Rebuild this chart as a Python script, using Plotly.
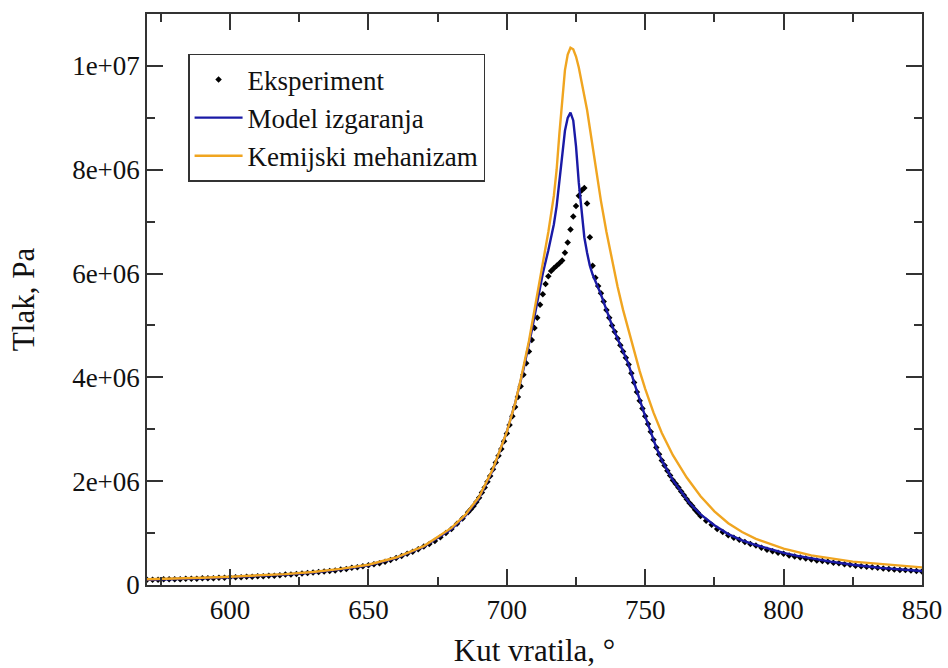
import plotly.graph_objects as go

# Experiment (crank angle in degrees, pressure in units of 1e6 Pa)
exp_x = [570, 572, 574, 576, 578, 580, 582, 584, 586, 588, 590, 592, 594, 596, 598,
         600, 602, 604, 606, 608, 610, 612, 614, 616, 618, 620, 622, 624, 626, 628,
         630, 632, 634, 636, 638, 640, 642, 644, 646, 648, 650, 652, 654, 656, 658,
         660, 662, 664, 666, 668, 670, 672, 674, 676, 678, 680, 682, 684, 686, 687,
         688, 689, 690, 691, 692, 693, 694, 695, 696, 697, 698, 699, 700, 701, 702,
         703, 704, 705, 706, 707, 708, 709, 710, 711, 712, 713, 714, 715, 716, 717,
         718, 719, 720, 721, 722, 723, 724, 725, 726, 727, 728, 729, 730, 731, 732,
         733, 734, 735, 736, 737, 738, 739, 740, 741, 742, 743, 744, 745, 746, 747,
         748, 749, 750, 751, 752, 753, 754, 755, 756, 757, 758, 759, 760, 761, 762,
         763, 764, 765, 766, 767, 768, 769, 770, 772, 774, 776, 778, 780, 782, 784,
         786, 788, 790, 792, 794, 796, 798, 800, 802, 804, 806, 808, 810, 812, 814,
         816, 818, 820, 822, 824, 826, 828, 830, 832, 834, 836, 838, 840, 842, 844,
         846, 848, 850]
exp_y = [0.10, 0.10, 0.10, 0.11, 0.11, 0.11, 0.11, 0.12, 0.12, 0.12, 0.13, 0.13, 0.13, 0.14, 0.14,
         0.15, 0.15, 0.15, 0.16, 0.16, 0.17, 0.17, 0.18, 0.18, 0.19, 0.20, 0.20, 0.21, 0.22, 0.23,
         0.24, 0.25, 0.26, 0.27, 0.28, 0.30, 0.31, 0.33, 0.34, 0.36, 0.38, 0.40, 0.42, 0.45, 0.48,
         0.52, 0.56, 0.60, 0.64, 0.69, 0.74, 0.79, 0.85, 0.92, 1.00, 1.08, 1.18, 1.28, 1.40, 1.46,
         1.52, 1.60, 1.68, 1.78, 1.88, 1.99, 2.10, 2.23, 2.36, 2.49, 2.62, 2.77, 2.92, 3.08, 3.25,
         3.43, 3.62, 3.83, 4.05, 4.27, 4.50, 4.72, 4.95, 5.15, 5.40, 5.60, 5.80, 5.95, 6.05, 6.10,
         6.15, 6.20, 6.25, 6.40, 6.60, 6.85, 7.10, 7.30, 7.50, 7.60, 7.65, 7.35, 6.70, 6.15, 5.92,
         5.76, 5.62, 5.46, 5.30, 5.15, 5.00, 4.88, 4.75, 4.62, 4.50, 4.38, 4.25, 4.08, 3.90, 3.72,
         3.55, 3.40, 3.25, 3.10, 2.95, 2.80, 2.65, 2.52, 2.40, 2.30, 2.20, 2.11, 2.02, 1.95, 1.88,
         1.80, 1.73, 1.65, 1.58, 1.52, 1.45, 1.39, 1.33, 1.24, 1.16, 1.08, 1.02, 0.96, 0.91, 0.87,
         0.83, 0.79, 0.76, 0.72, 0.68, 0.65, 0.62, 0.60, 0.57, 0.55, 0.53, 0.51, 0.49, 0.47, 0.46,
         0.45, 0.43, 0.42, 0.40, 0.39, 0.37, 0.36, 0.35, 0.34, 0.33, 0.32, 0.31, 0.30, 0.29, 0.29,
         0.28, 0.27, 0.26]

model_x = [570, 580, 590, 600, 610, 620, 630, 640, 650, 660, 670, 680, 685, 690, 695,
           700, 703, 706, 709, 711, 713, 715, 716, 717, 718, 719, 720, 721, 722, 723,
           724, 725, 726, 727, 728, 729, 730, 731, 732, 734, 736, 738, 740, 742, 744,
           746, 748, 750, 752, 754, 756, 758, 760, 763, 766, 770, 775, 780, 785, 790,
           795, 800, 805, 810, 817, 825, 835, 850]
model_y = [0.10, 0.11, 0.13, 0.15, 0.17, 0.20, 0.24, 0.30, 0.38, 0.52, 0.74, 1.08, 1.33, 1.68, 2.22,
           2.95, 3.50, 4.15, 4.90, 5.45, 6.00, 6.45, 6.70, 6.95, 7.30, 7.80, 8.30, 8.75, 9.00, 9.10,
           8.95, 8.45, 7.75, 7.15, 6.70, 6.40, 6.15, 5.98, 5.85, 5.60, 5.30, 5.00, 4.75, 4.50, 4.25,
           3.90, 3.55, 3.25, 2.95, 2.65, 2.40, 2.20, 2.02, 1.80, 1.58, 1.36, 1.15, 0.98, 0.86, 0.77,
           0.69, 0.62, 0.56, 0.51, 0.45, 0.39, 0.33, 0.27]

chem_x = [570, 580, 590, 600, 610, 620, 630, 640, 650, 660, 670, 680, 685, 690, 695,
          700, 703, 705, 708, 711, 713, 715, 717, 718, 719, 720, 721, 722, 723, 724,
          725, 726, 727, 728, 729, 730, 731, 732, 734, 736, 738, 740, 742, 744, 746,
          748, 750, 753, 756, 760, 765, 770, 775, 780, 785, 790, 800, 810, 825, 840, 850]
chem_y = [0.11, 0.12, 0.14, 0.16, 0.18, 0.21, 0.25, 0.31, 0.39, 0.53, 0.75, 1.10, 1.35, 1.70, 2.24,
          2.95, 3.50, 3.95, 4.70, 5.60, 6.20, 6.80, 7.50, 8.00, 8.70, 9.40, 9.92, 10.22, 10.35, 10.32,
          10.18, 9.97, 9.72, 9.45, 9.15, 8.80, 8.45, 8.10, 7.40, 6.80, 6.25, 5.75, 5.30, 4.90, 4.50,
          4.12, 3.78, 3.32, 2.93, 2.50, 2.07, 1.71, 1.42, 1.19, 1.02, 0.89, 0.70, 0.57, 0.45, 0.38, 0.34]

x_tickvals = [600, 650, 700, 750, 800, 850]
y_tickvals = [0, 2e6, 4e6, 6e6, 8e6, 1e7]
y_ticktext = ["0", "2e+06", "4e+06", "6e+06", "8e+06", "1e+07"]

SCALE = 1e6
FONT = "Liberation Serif"
TXT = "#111111"
AX = "#333333"

fig = go.Figure()
fig.add_trace(go.Scatter(
    x=exp_x, y=[v * SCALE for v in exp_y], mode="markers", name="Eksperiment",
    marker=dict(symbol="diamond", size=5, color="black"),
))
fig.add_trace(go.Scatter(
    x=model_x, y=[v * SCALE for v in model_y], mode="lines", name="Model izgaranja",
    line=dict(color="#1a1aa6", width=2.4),
))
fig.add_trace(go.Scatter(
    x=chem_x, y=[v * SCALE for v in chem_y], mode="lines", name="Kemijski mehanizam",
    line=dict(color="#f0a520", width=2.4),
))

axis_common = dict(
    showline=True, linecolor=AX, linewidth=1.5, mirror="ticks",
    ticks="inside", ticklen=16, tickwidth=1.5, tickcolor=AX,
    showgrid=False, zeroline=False, automargin=False,
    tickfont=dict(family=FONT, size=27, color=TXT),
)

fig.update_xaxes(
    range=[570, 850], tickvals=x_tickvals,
    minor=dict(dtick=25, tick0=575, ticks="inside", ticklen=8, tickwidth=1.5, tickcolor=AX),
    title=dict(text="Kut vratila, °", font=dict(family=FONT, size=31, color=TXT), standoff=18),
    **axis_common,
)
fig.update_yaxes(
    range=[0, 1.1e7], tickvals=y_tickvals, ticktext=y_ticktext,
    minor=dict(dtick=1e6, tick0=0, ticks="inside", ticklen=8, tickwidth=1.5, tickcolor=AX),
    title=dict(text="Tlak, Pa", font=dict(family=FONT, size=31, color=TXT), standoff=28),
    **axis_common,
)

fig.update_layout(
    width=948, height=668,
    margin=dict(l=147, r=26, t=14, b=83),
    paper_bgcolor="white", plot_bgcolor="white",
    font=dict(family=FONT, color=TXT),
    showlegend=True,
    legend=dict(
        x=0.053, y=0.93, xanchor="left", yanchor="top",
        bgcolor="white", bordercolor=AX, borderwidth=1.5,
        font=dict(family=FONT, size=27, color=TXT),
        itemwidth=48, tracegroupgap=0,
    ),
)

fig.write_html("out.html")
